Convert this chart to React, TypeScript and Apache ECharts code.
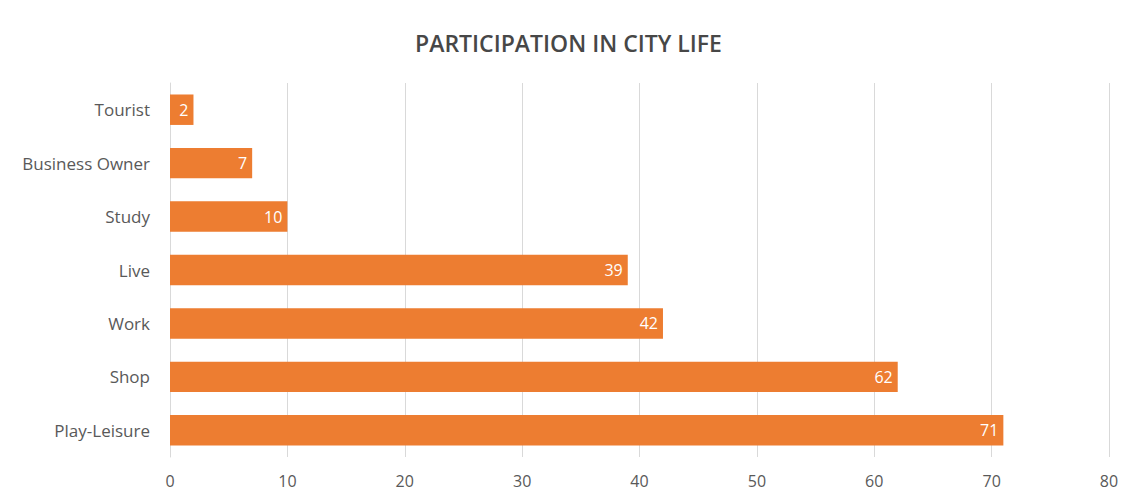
import React, { useEffect, useRef } from "react";
import * as echarts from "echarts";

const categories = ["Tourist", "Business Owner", "Study", "Live", "Work", "Shop", "Play-Leisure"];
const values = [2, 7, 10, 39, 42, 62, 71];
const xTicks = [0, 10, 20, 30, 40, 50, 60, 70, 80];

export default function App() {
  const ref = useRef<HTMLDivElement>(null);
  useEffect(() => {
    const chart = echarts.init(ref.current!, null, { renderer: "svg" });
    chart.setOption({
      animation: false,
      backgroundColor: "#ffffff",
      title: {
        text: "PARTICIPATION IN CITY LIFE",
        left: "center",
        top: 26,
        textStyle: { fontFamily: "Open Sans", fontSize: 23, fontWeight: 600, color: "#474747" },
      },
      grid: { left: 170, right: 28, top: 83, bottom: 45, containLabel: false },
      xAxis: {
        type: "value",
        min: xTicks[0],
        max: xTicks[xTicks.length - 1],
        interval: 10,
        axisLine: { show: false },
        axisTick: { show: false },
        axisLabel: { color: "#595959", fontFamily: "Open Sans", fontSize: 16, margin: 16 },
        splitLine: { show: true, lineStyle: { color: "#d9d9d9", width: 1 } },
      },
      yAxis: {
        type: "category",
        data: categories,
        inverse: true,
        axisLine: { show: true, lineStyle: { color: "#d9d9d9" } },
        axisTick: { show: false },
        axisLabel: { color: "#595959", fontFamily: "Open Sans", fontSize: 17, margin: 20 },
      },
      series: [
        {
          type: "bar",
          data: values,
          barWidth: "57%",
          itemStyle: { color: "#ED7D31" },
          label: {
            show: true,
            position: "insideRight",
            color: "#ffffff",
            fontFamily: "Open Sans",
            fontSize: 16,
            distance: 5,
          },
        },
      ],
    });
    return () => chart.dispose();
  }, []);
  return (
    <div
      ref={ref}
      style={{ position: "absolute", left: 0, top: 0, width: 1137, height: 502 }}
    />
  );
}
